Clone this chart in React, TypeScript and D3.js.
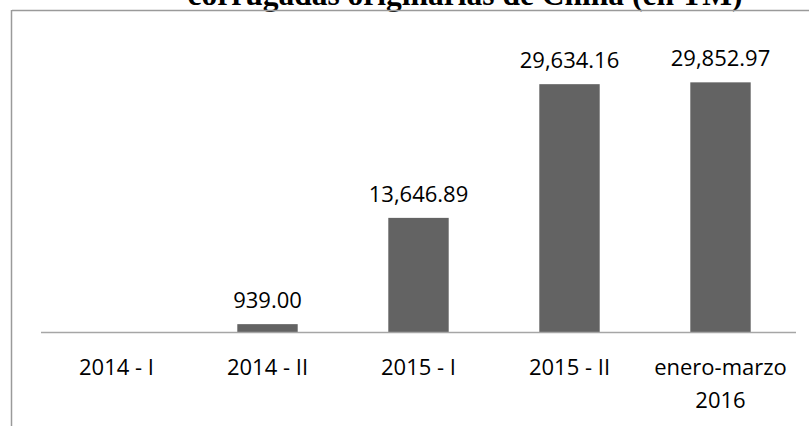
import React from "react";
import * as d3 from "d3";

const categories: string[][] = [["2014 - I"], ["2014 - II"], ["2015 - I"], ["2015 - II"], ["enero-marzo", "2016"]];
const values: (number | null)[] = [null, 939.0, 13646.89, 29634.16, 29852.97];
const valueLabels: string[] = ["", "939.00", "13,646.89", "29,634.16", "29,852.97"];
const titleText = "corrugadas originarias de China (en TM)";
const yMax = 35000;

const W = 809;
const H = 426;

export default function App() {
  const x = d3
    .scaleBand<number>()
    .domain(d3.range(categories.length))
    .range([41, 796])
    .paddingInner(0.6)
    .paddingOuter(0.3);
  const y = d3.scaleLinear().domain([0, yMax]).range([332, 39.3]);
  const labelFont = "'Open Sans', sans-serif";

  return (
    <svg
      width={W}
      height={H}
      style={{ position: "absolute", left: 0, top: 0, background: "#fff" }}
    >
      <rect x={0} y={0} width={W} height={H} fill="#fff" />
      <text
        x={465}
        y={4.5}
        textAnchor="middle"
        fontFamily="'Liberation Serif', 'Times New Roman', serif"
        fontWeight="bold"
        fontSize={31.5}
        fill="#000"
      >
        {titleText}
      </text>
      <line x1={12} y1={10.5} x2={W} y2={10.5} stroke="#9a9a9a" strokeWidth={1.5} />
      <line x1={11.5} y1={10} x2={11.5} y2={H} stroke="#9a9a9a" strokeWidth={1.5} />
      {values.map((v, i) =>
        v == null ? null : (
          <rect
            key={"b" + i}
            x={x(i)!}
            y={y(v)}
            width={x.bandwidth()}
            height={y(0) - y(v)}
            fill="#636363"
          />
        )
      )}
      <line x1={41} y1={332.5} x2={796} y2={332.5} stroke="#a6a6a6" strokeWidth={1.5} />
      {values.map((v, i) =>
        v == null ? null : (
          <text
            key={"v" + i}
            x={x(i)! + x.bandwidth() / 2}
            y={y(v) - 16}
            textAnchor="middle"
            fontFamily={labelFont}
            fontSize={22}
            fill="#000"
          >
            {valueLabels[i]}
          </text>
        )
      )}
      {categories.map((lines, i) => (
        <text
          key={"c" + i}
          x={x(i)! + x.bandwidth() / 2}
          y={375}
          textAnchor="middle"
          fontFamily={labelFont}
          fontSize={22}
          fill="#000"
        >
          {lines.map((ln, j) => (
            <tspan key={j} x={x(i)! + x.bandwidth() / 2} dy={j === 0 ? 0 : 33}>
              {ln}
            </tspan>
          ))}
        </text>
      ))}
    </svg>
  );
}
